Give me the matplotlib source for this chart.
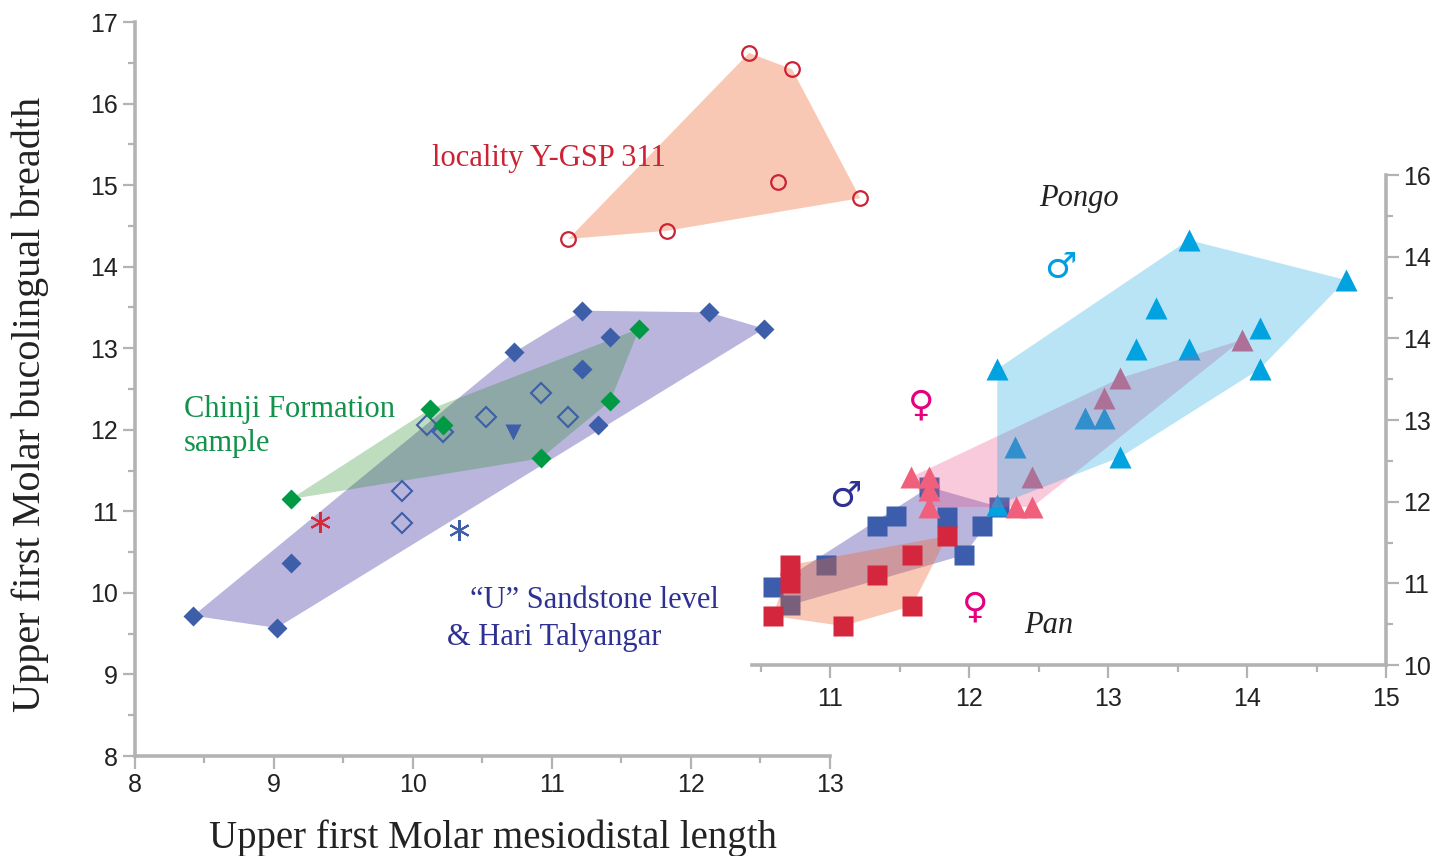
import numpy as np
import matplotlib.pyplot as plt

plt.rcParams['font.family'] = ['Liberation Sans', 'DejaVu Sans']

# ---- main panel: fossil samples ----
# locality Y-GSP 311
ygsp_x = [12.42, 12.73, 12.63, 13.22, 11.83, 11.12]
ygsp_y = [16.62, 16.42, 15.04, 14.84, 14.44, 14.34]

# "U" Sandstone level & Hari Talyangar (filled / open diamonds)
usand_x = [8.42, 9.02, 9.12, 10.73, 11.22, 11.42, 11.22, 12.13, 12.53, 11.33]
usand_y = [9.72, 9.57, 10.37, 12.95, 13.46, 13.14, 12.75, 13.44, 13.24, 12.06]
hari_x = [10.10, 10.22, 10.53, 10.92, 11.12, 9.92, 9.92]
hari_y = [12.06, 11.97, 12.16, 12.45, 12.16, 11.25, 10.86]
tri_x, tri_y = [10.72], [11.97]
ast_blue_x, ast_blue_y = [10.33], [10.77]
ast_red_x, ast_red_y = [9.33], [10.87]

# Chinji Formation sample
chinji_x = [9.12, 10.12, 10.22, 11.63, 11.42, 10.92]
chinji_y = [11.15, 12.25, 12.06, 13.24, 12.35, 11.65]

# ---- inset: extant apes ----
pan_m_x = [10.585, 10.712, 10.968, 11.336, 11.473, 11.841, 12.093, 11.963, 11.711, 12.216]
pan_m_y = [10.955, 10.735, 11.225, 11.702, 11.824, 11.812, 11.702, 11.347, 12.180, 11.935]
pan_f_x = [10.712, 10.712, 10.585, 11.090, 11.588, 11.336, 11.588, 11.841]
pan_f_y = [11.225, 11.004, 10.600, 10.478, 11.347, 11.102, 10.723, 11.580]
pongo_m_x = [13.579, 14.712, 13.341, 14.091, 13.197, 13.579, 12.201, 14.091, 13.088, 12.201,
             12.331, 12.836, 12.966]
pongo_m_y = [15.204, 14.714, 14.371, 14.127, 13.869, 13.869, 13.625, 13.625, 12.547, 11.959,
             12.670, 13.025, 13.025]
pongo_f_x = [11.581, 11.711, 11.711, 11.711, 12.454, 12.338, 12.454, 12.966, 13.088, 13.961]
pongo_f_y = [12.302, 12.302, 12.143, 11.935, 12.302, 11.935, 11.935, 13.270, 13.514, 13.980]

inset_ytick_labels = ['10', '11', '12', '13', '14', '14', '16']

GRAY = '#b3b3b3'
SERIF = 'Liberation Serif'


def hull(x, y):
    # convex hull (monotone chain)
    pts = sorted(set(zip(x, y)))

    def cross(o, a, b):
        return (a[0] - o[0]) * (b[1] - o[1]) - (a[1] - o[1]) * (b[0] - o[0])

    lower, upper = [], []
    for p in pts:
        while len(lower) >= 2 and cross(lower[-2], lower[-1], p) <= 0:
            lower.pop()
        lower.append(p)
    for p in reversed(pts):
        while len(upper) >= 2 and cross(upper[-2], upper[-1], p) <= 0:
            upper.pop()
        upper.append(p)
    return np.array(lower[:-1] + upper[:-1])


def style_axis(ax):
    ax.tick_params(which='major', direction='out', length=9, width=1.6, color=GRAY,
                   labelsize=18, labelcolor='#222222')
    ax.tick_params(which='minor', direction='out', length=5, width=1.6, color=GRAY)


fig = plt.figure(figsize=(14.44, 8.56), dpi=100)

# main axes
ax = fig.add_axes([135 / 1444, 1 - 756 / 856, (913 - 135) / 1444, (756 - 22) / 856])
ax.set_xlim(8, 13.6)
ax.set_ylim(8, 17)
for s in ['top', 'right']:
    ax.spines[s].set_visible(False)
for s in ['left', 'bottom']:
    ax.spines[s].set_color(GRAY)
    ax.spines[s].set_linewidth(2.6)
ax.spines['bottom'].set_bounds(8, 13)
ax.set_xticks(range(8, 14))
ax.set_xticks(np.arange(8.5, 13, 1), minor=True)
ax.set_yticks(range(8, 18))
ax.set_yticks(np.arange(8.5, 17, 1), minor=True)
style_axis(ax)
ax.patch.set_alpha(0)

h = hull(usand_x, usand_y)
ax.fill(h[:, 0], h[:, 1], color=(80 / 255, 70 / 255, 170 / 255), alpha=0.4, lw=0, zorder=1)
h = hull(chinji_x, chinji_y)
ax.fill(h[:, 0], h[:, 1], color=(40 / 255, 140 / 255, 40 / 255), alpha=0.3, lw=0, zorder=2)
h = hull(ygsp_x, ygsp_y)
ax.fill(h[:, 0], h[:, 1], color='#f06428', alpha=0.35, lw=0, zorder=1)

ax.plot(usand_x, usand_y, 'D', ms=10.5, color='#3d5ea8', mec='none', zorder=3)
ax.plot(hari_x, hari_y, 'D', ms=10.5, mfc='none', mec='#3d5ea8', mew=1.5, zorder=3)
ax.plot(tri_x, tri_y, 'v', ms=12, color='#3d5ea8', mec='none', zorder=3)
ax.plot(chinji_x, chinji_y, 'D', ms=10.5, color='#009944', mec='none', zorder=4)
ax.plot(ygsp_x, ygsp_y, 'o', ms=10.5, mfc='none', mec='#cc2233', mew=1.6, zorder=3, clip_on=False)
ax.plot(ast_red_x, ast_red_y, marker=(6, 2, 0), ms=15, ls='none', mec='#d42a3c', mew=1.5, zorder=3)
ax.plot(ast_blue_x, ast_blue_y, marker=(6, 2, 0), ms=15, ls='none', mec='#3d5ea8', mew=1.5, zorder=3)

ax.text(10.14, 15.33, 'locality Y-GSP 311', family=SERIF, fontsize=22, color='#cc2233',
        ha='left', va='center')
ax.text(8.35, 12.04, 'Chinji Formation\nsample', family=SERIF, fontsize=22, color='#12924a',
        ha='left', va='center', linespacing=1.25)
ax.text(10.41, 9.91, '\u201cU\u201d Sandstone level', family=SERIF, fontsize=22, color='#2e3192',
        ha='left', va='center')
ax.text(10.245, 9.45, '& Hari Talyangar', family=SERIF, fontsize=22, color='#2e3192',
        ha='left', va='center')

fig.text(493 / 1444, 1 - 838 / 856, 'Upper first Molar mesiodistal length', family=SERIF,
         fontsize=28, ha='center', va='center', color='#222222')
fig.text(30 / 1444, 1 - 404 / 856, 'Upper first Molar bucolingual breadth', family=SERIF,
         fontsize=29, ha='center', va='center', rotation=90, color='#222222')

# inset axes
ax2 = fig.add_axes([752 / 1444, 1 - 665 / 856, (1386 - 752) / 1444, (665 - 175) / 856])
ax2.set_facecolor('none')
ax2.set_xlim(10.435, 15.0)
ax2.set_ylim(10, 16)
for s in ['top', 'left']:
    ax2.spines[s].set_visible(False)
for s in ['right', 'bottom']:
    ax2.spines[s].set_color(GRAY)
    ax2.spines[s].set_linewidth(2.6)
ax2.yaxis.tick_right()
ax2.set_xticks(range(11, 16))
ax2.set_xticks(np.arange(10.5, 15, 1), minor=True)
ax2.set_yticks(range(10, 17))
ax2.set_yticklabels(inset_ytick_labels)
ax2.set_yticks(np.arange(10.5, 16, 1), minor=True)
style_axis(ax2)
ax2.tick_params(axis='x', which='both', pad=7)

h = hull(pan_m_x, pan_m_y)
ax2.fill(h[:, 0], h[:, 1], color=(80 / 255, 70 / 255, 170 / 255), alpha=0.4, lw=0, zorder=1)
ax2.plot(pan_m_x, pan_m_y, 's', ms=14, color='#3c5dab', mec='none', zorder=2)
h = hull(pan_f_x, pan_f_y)
ax2.fill(h[:, 0], h[:, 1], color='#f06428', alpha=0.35, lw=0, zorder=3)
ax2.plot(pan_f_x, pan_f_y, 's', ms=14, color='#d4263c', mec='none', zorder=4)
ax2.plot(pongo_m_x, pongo_m_y, '^', ms=16, color='#00a3e0', mec='none', zorder=5)
h = hull(pongo_f_x, pongo_f_y)
ax2.fill(h[:, 0], h[:, 1], color='#e8508a', alpha=0.3, lw=0, zorder=6)
ax2.plot(pongo_f_x, pongo_f_y, '^', ms=16, color='#f0607c', mec='none', zorder=7)
h = hull(pongo_m_x, pongo_m_y)
ax2.fill(h[:, 0], h[:, 1], color='#00a0e0', alpha=0.28, lw=0, zorder=8)

ax2.text(12.79, 15.71, 'Pongo', family=SERIF, style='italic', fontsize=22, color='#222222',
         ha='center', va='center')
ax2.text(12.57, 10.48, 'Pan', family=SERIF, style='italic', fontsize=22, color='#222222',
         ha='center', va='center')
ax2.text(12.656, 14.86, '\u2642', family='DejaVu Sans', fontsize=26, color='#00a0e0',
         ha='center', va='center')
ax2.text(11.105, 12.06, '\u2642', family='DejaVu Sans', fontsize=26, color='#2e3192',
         ha='center', va='center')
ax2.text(11.653, 13.18, '\u2640', family='DejaVu Sans', fontsize=26, color='#e6007e',
         ha='center', va='center')
ax2.text(12.043, 10.70, '\u2640', family='DejaVu Sans', fontsize=26, color='#e6007e',
         ha='center', va='center')

fig.savefig('out.png', dpi=100)
